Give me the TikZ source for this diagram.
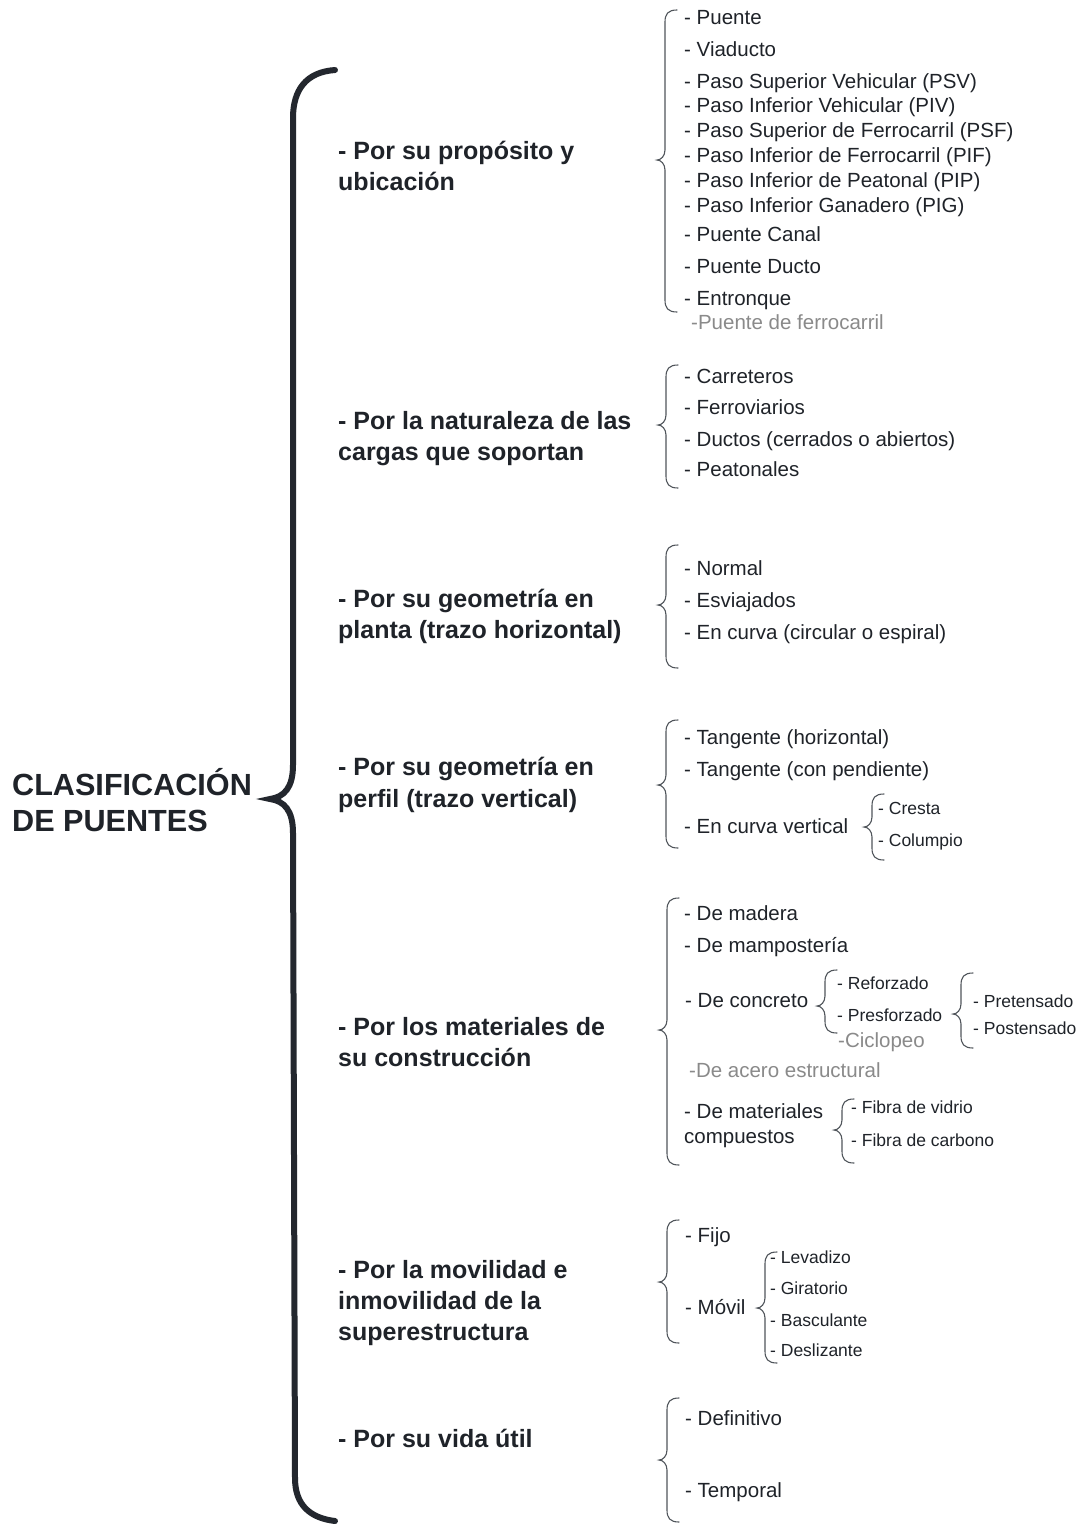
\documentclass[tikz,border=0pt]{standalone}
\usepackage{fontspec}
\setmainfont{Liberation Sans}
\definecolor{ink}{HTML}{1F2329}
\definecolor{bigbr}{HTML}{23272E}
\definecolor{greytxt}{HTML}{8A8A8A}
\definecolor{smallbr}{HTML}{50555B}
\newcommand{\brc}[4]{%
\draw[sbr] ({#1+12},{#2}) .. controls ({#1+3},{#2}) and ({#1},{#2+4}) .. ({#1},{#2+12}) -- ({#1},{#3-10}) .. controls ({#1},{#3-4}) and ({#1-4},{#3}) .. ({#1-8},{#3}) .. controls ({#1-4},{#3}) and ({#1},{#3+4}) .. ({#1},{#3+10}) -- ({#1},{#4-12}) .. controls ({#1},{#4-4}) and ({#1+3},{#4}) .. ({#1+12},{#4});}
\begin{document}
\begin{tikzpicture}[x=1pt,y=-1pt,
  sbr/.style={draw=smallbr,line width=1.1pt,line cap=round},
  bigbrace/.style={draw=bigbr,line width=6pt,line cap=round},
  base/.style={anchor=west,inner sep=0pt,text height=0.716em,text depth=0pt,text=ink},
  ttl/.style={base,yshift=-7pt,font=\fontsize{30.6}{36}\selectfont\bfseries},
  head/.style={base,yshift=-5pt,font=\fontsize{25}{31}\selectfont\bfseries},
  item/.style={base,yshift=-4pt,font=\fontsize{20.5}{24}\selectfont},
  gitem/.style={base,yshift=-4pt,font=\fontsize{20.5}{24}\selectfont,text=greytxt},
  sitem/.style={base,yshift=-3pt,font=\fontsize{17.5}{21}\selectfont},
]
\useasboundingbox[fill=white] (0,0) rectangle (1081,1524);
% big brace
\draw[bigbrace] (335,70) .. controls (306,72) and (293,90) .. (293,118) -- (293,765) .. controls (293,788) and (284,797) .. (270,799) .. controls (284,801) and (293,810) .. (293,833) -- (295,1478) .. controls (295,1505) and (310,1518) .. (335,1521);
% title
\node[ttl] (t1) at (12,785) {CLASIFICACIÓN};
\node[ttl] (t2) at (12,821) {DE PUENTES};
% headings
\node[head] (h1a) at (338,151) {- Por su propósito y};
\node[head] (h1b) at (338,182) {ubicación};
\node[head] (h2a) at (338,421) {- Por la naturaleza de las};
\node[head] (h2b) at (338,452) {cargas que soportan};
\node[head] (h3a) at (338,599) {- Por su geometría en};
\node[head] (h3b) at (338,630) {planta (trazo horizontal)};
\node[head] (h4a) at (338,767) {- Por su geometría en};
\node[head] (h4b) at (338,799) {perfil (trazo vertical)};
\node[head] (h5a) at (338,1027) {- Por los materiales de};
\node[head] (h5b) at (338,1058) {su construcción};
\node[head] (h6a) at (338,1270) {- Por la movilidad e};
\node[head] (h6b) at (338,1301) {inmovilidad de la};
\node[head] (h6c) at (338,1332) {superestructura};
\node[head] (h7a) at (338,1439) {- Por su vida útil};
% group 1
\brc{665}{10}{160}{312}
\node[item] (a1) at (684,17) {- Puente};
\node[item] (a2) at (684,49) {- Viaducto};
\node[item] (a3) at (684,81) {- Paso Superior Vehicular (PSV)};
\node[item] (a4) at (684,105) {- Paso Inferior Vehicular (PIV)};
\node[item] (a5) at (684,130) {- Paso Superior de Ferrocarril (PSF)};
\node[item] (a6) at (684,155) {- Paso Inferior de Ferrocarril (PIF)};
\node[item] (a7) at (684,180) {- Paso Inferior de Peatonal (PIP)};
\node[item] (a8) at (684,205) {- Paso Inferior Ganadero (PIG)};
\node[item] (a9) at (684,234) {- Puente Canal};
\node[item] (a10) at (684,266) {- Puente Ducto};
\node[item] (a11) at (684,298) {- Entronque};
\node[gitem] (a12) at (691,322) {-Puente de ferrocarril};
% group 2
\brc{666}{365}{425}{488}
\node[item] (b1) at (684,376) {- Carreteros};
\node[item] (b2) at (684,407) {- Ferroviarios};
\node[item] (b3) at (684,439) {- Ductos (cerrados o abiertos)};
\node[item] (b4) at (684,469) {- Peatonales};
% group 3
\brc{666}{545}{605}{668}
\node[item] (c1) at (684,568) {- Normal};
\node[item] (c2) at (684,600) {- Esviajados};
\node[item] (c3) at (684,632) {- En curva (circular o espiral)};
% group 4
\brc{666}{720}{785}{848}
\node[item] (d1) at (684,737) {- Tangente (horizontal)};
\node[item] (d2) at (684,769) {- Tangente (con pendiente)};
\node[item] (d3) at (684,826) {- En curva vertical};
\brc{872}{794}{827}{860}
\node[sitem] (d4) at (878,808) {- Cresta};
\node[sitem] (d5) at (878,840) {- Columpio};
% group 5
\brc{667}{898}{1030}{1165}
\node[item] (e1) at (684,913) {- De madera};
\node[item] (e2) at (684,945) {- De mampostería};
\node[item] (e3) at (685,1000) {- De concreto};
\brc{825}{970}{1006}{1033}
\node[sitem] (e4) at (837,983) {- Reforzado};
\node[sitem] (e5) at (837,1015) {- Presforzado};
\node[gitem] (e6) at (838,1040) {-Ciclopeo};
\brc{961}{973}{1014}{1048}
\node[sitem] (e7) at (973,1001) {- Pretensado};
\node[sitem] (e8) at (973,1028) {- Postensado};
\node[gitem] (e9) at (689,1070) {-De acero estructural};
\node[item] (e10) at (684,1111) {- De materiales};
\node[item] (e11) at (684,1136) {compuestos};
\brc{842}{1099}{1130}{1163}
\node[sitem] (e12) at (851,1107) {- Fibra de vidrio};
\node[sitem] (e13) at (851,1140) {- Fibra de carbono};
% group 6
\brc{667}{1220}{1282}{1343}
\node[item] (f1) at (685,1235) {- Fijo};
\node[item] (f2) at (685,1307) {- Móvil};
\brc{765}{1252}{1308}{1363}
\node[sitem] (f3) at (770,1257) {- Levadizo};
\node[sitem] (f4) at (770,1288) {- Giratorio};
\node[sitem] (f5) at (770,1320) {- Basculante};
\node[sitem] (f6) at (770,1350) {- Deslizante};
% group 7
\brc{667}{1398}{1460}{1522}
\node[item] (g1) at (685,1418) {- Definitivo};
\node[item] (g2) at (685,1490) {- Temporal};
\end{tikzpicture}
\end{document}
